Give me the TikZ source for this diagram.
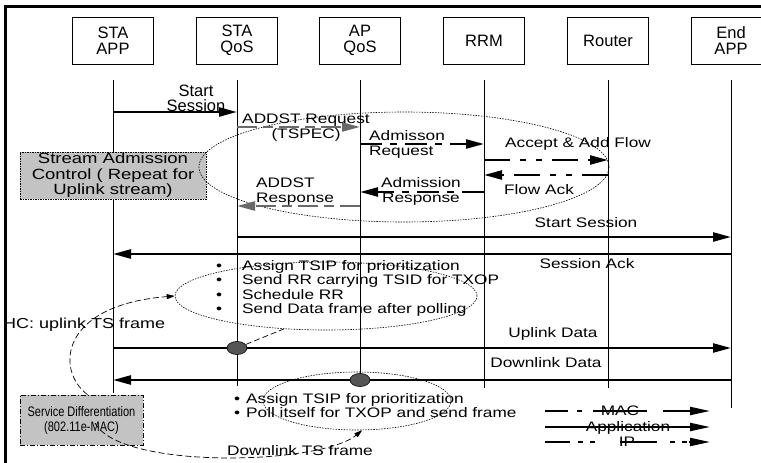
\documentclass[tikz,border=0pt]{standalone}
\usepackage{fontspec}
\setmainfont{Liberation Sans}[FakeStretch=1.25]
\newfontfamily\hdfont{Liberation Sans}
\newfontfamily\nrfont{Liberation Sans}[FakeStretch=0.8]
\usetikzlibrary{arrows.meta,shapes.geometric}
\definecolor{boxgray}{RGB}{195,195,195}
\definecolor{dotgray}{RGB}{85,85,85}
\definecolor{reqgray}{RGB}{105,105,105}
\begin{document}
\begin{tikzpicture}[x=1pt,y=-1pt,
  hd/.style={draw, line width=0.7pt, minimum width=81pt, minimum height=47pt, inner sep=0pt, align=center, font=\hdfont\fontsize{16.5}{15.5}\selectfont},
  hdtxt/.style={inner sep=0pt, align=center, font=\hdfont\fontsize{16.5}{15.5}\selectfont},
  life/.style={line width=0.9pt},
  tip/.style={-{Triangle[length=18pt,width=9pt]}},
  msg/.style={line width=2.4pt, tip},
  mac/.style={dash pattern=on 22pt off 8pt on 7pt off 8pt},
  ipl/.style={dash pattern=on 26pt off 10pt on 6pt off 10pt on 6pt off 10pt},
  req/.style={line width=2.4pt, color=reqgray, tip, dash pattern=on 20pt off 6pt on 10pt off 6pt},
  tx/.style={inner sep=0pt, font=\fontsize{13.8}{14.5}\selectfont},
  ell/.style={draw, ellipse, inner sep=0pt, line width=0.6pt, dash pattern=on 1.5pt off 1.2pt},
  curv/.style={line width=0.7pt, dash pattern=on 6pt off 3pt},
  smalltip/.style={-{Triangle[length=8pt,width=5pt]}},
  dotn/.style={draw, ellipse, inner sep=0pt, line width=0.6pt, fill=dotgray, minimum width=20pt, minimum height=13pt},
  gbox/.style={fill=boxgray, draw, line width=0.7pt, inner sep=0pt, align=center},
  leg/.style={line width=2pt, -{Triangle[length=20pt,width=8pt]}}
]
\useasboundingbox (0,0) rectangle (761,463);
\fill[white] (0,0) rectangle (761,463);
% frame
\draw[line width=3pt] (5.5,463) -- (5.5,6.5) -- (761,6.5);

% headers
\node[hd] (sapp) at (113,40.5) {STA\\APP};
\node[hd] (sqos) at (237,40.5) {STA\\QoS};
\node[hd] (aqos) at (360,40.5) {AP\\QoS};
\node[hd] (rrm) at (484,40.5) {RRM};
\node[hd] (rtr) at (608,40.5) {Router};
\node[hd, minimum width=70pt] (ebox) at (726,40.5) {};
\node[hdtxt] (eapp) at (731,40.5) {End\\APP};

% lifelines
\draw[life] (sapp |- 0,80) -- (sapp |- 0,393);
\draw[life] (sqos |- 0,80) -- (sqos |- 0,386);
\draw[life] (aqos |- 0,80) -- (aqos |- 0,387);
\draw[life] (rrm |- 0,80) -- (rrm |- 0,388);
\draw[life] (rtr |- 0,80) -- (rtr |- 0,388);
\draw[life] (eapp |- 0,80) -- (eapp |- 0,408);

% gray boxes
\node[gbox, dash pattern=on 1.5pt off 1pt, minimum width=186pt, minimum height=47pt, font=\fontsize{14.8}{15.5}\selectfont] (sac) at (113,175.5) {Stream Admission\\Control ( Repeat for\\Uplink stream)};
\node[gbox, dash pattern=on 5pt off 2pt on 1pt off 2pt, minimum width=123pt, minimum height=50pt, font=\nrfont\fontsize{13.8}{15}\selectfont] (sd) at (81.5,420) {Service Differentiation\\(802.11e-MAC)};

% ellipses
\node[ell, minimum width=410pt, minimum height=110pt] (e1) at (404,167) {};
\node[ell, minimum width=302pt, minimum height=68pt] (e2) at (326,296) {};
\node[ell, minimum width=188pt, minimum height=58pt] (e3) at (357,401) {};

% messages
\draw[msg] (sapp |- 0,112) -- (sqos |- 0,112);
\draw[req] (sqos |- 0,127) -- (aqos |- 0,127);
\draw[msg, mac] (aqos |- 0,144) -- (rrm |- 0,144);
\draw[msg, ipl] (rrm |- 0,160) -- (rtr |- 0,160);
\draw[msg, ipl] (rtr |- 0,175) -- (rrm |- 0,175);
\draw[msg, mac] (rrm |- 0,192) -- (aqos |- 0,192);
\draw[req] (aqos |- 0,206) -- (sqos |- 0,206);
\draw[msg] (sqos |- 0,237) -- (eapp |- 0,237);
\draw[msg] (eapp |- 0,254) -- (sapp |- 0,254);
\draw[msg] (sapp |- 0,348) -- (eapp |- 0,348);
\draw[msg] (eapp |- 0,380) -- (sapp |- 0,380);

% circles
\node[dotn] (c1) at (sqos |- 0,348) {};
\node[dotn] (c2) at (aqos |- 0,380) {};

% dashed curves
\draw[curv, smalltip] ([xshift=6pt]sd.north) .. controls (55,370) and (60,305) .. (e2.west);
\draw[curv, smalltip] ([shift={(13.5,3)}]sd.center) .. controls (120,470) and (320,465) .. (e3.-80);
\draw[curv] (c1) -- (e2.218);

% labels
\node[hdtxt] (t1) at (196,98.5) {Start\\Session};
\node[tx, align=center] (t2) at (306,127.5) {ADDST Request\\(TSPEC)};
\node[tx, align=left, anchor=west] (t3) at (369,144.5) {Admisson\\Request};
\node[tx, anchor=base] (t4) at (578,147) {Accept \& Add Flow};
\node[tx, anchor=base] (t5) at (539,194) {Flow Ack};
\node[tx, align=center] (t6) at (421,191.5) {Admission\\Response};
\node[tx, align=left, anchor=west] (t7) at (256,191.5) {ADDST\\Response};
\node[tx, anchor=base] (t8) at (586,227) {Start Session};
\node[tx, anchor=base] (t9) at (587,268) {Session Ack};
\node[tx, anchor=base] (t10) at (553,337) {Uplink Data};
\node[tx, anchor=base] (t11) at (546,367) {Downlink Data};

% bullet lists
\node[tx, anchor=base west] (bl1) at (216,270) {\begin{tabular}[t]{@{}l@{}}
\makebox[26pt][l]{\textbullet}Assign TSIP for prioritization\\
\makebox[26pt][l]{\textbullet}Send RR carrying TSID for TXOP\\
\makebox[26pt][l]{\textbullet}Schedule RR\\
\makebox[26pt][l]{\textbullet}Send Data frame after polling
\end{tabular}};
\node[tx, anchor=base west] (bl2) at (234,403) {\begin{tabular}[t]{@{}l@{}}
\makebox[12pt][l]{\textbullet}Assign TSIP for prioritization\\
\makebox[12pt][l]{\textbullet}Poll itself for TXOP and send frame
\end{tabular}};

\node[tx, font=\fontsize{14.4}{15}\selectfont, anchor=base west] (hc) at (3,328) {HC: uplink TS frame};
\node[tx, anchor=base] (dl) at (300,455) {Downlink TS frame};

% legend
\coordinate (ma) at (545,411);
\coordinate (mb) at (710,411);
\coordinate (aa) at (545,427);
\coordinate (ab) at (710,427);
\coordinate (ia) at (545,442);
\coordinate (ib) at (710,442);
\draw[leg, dash pattern=on 23pt off 9pt on 5pt off 11pt on 54pt off 16pt on 60pt] (ma) -- (mb);
\draw[leg] (aa) -- (ab);
\draw[leg, dash pattern=on 25pt off 8pt on 5pt off 7pt on 5pt off 25pt on 37pt off 13pt on 5pt off 7pt on 5pt off 2pt on 40pt] (ia) -- (ib);
\node[tx, anchor=base] (lm) at (620,415) {MAC};
\node[tx, anchor=base] (la) at (628,431) {Application};
\node[tx, anchor=base] (li) at (627,446) {IP};
\end{tikzpicture}
\end{document}
